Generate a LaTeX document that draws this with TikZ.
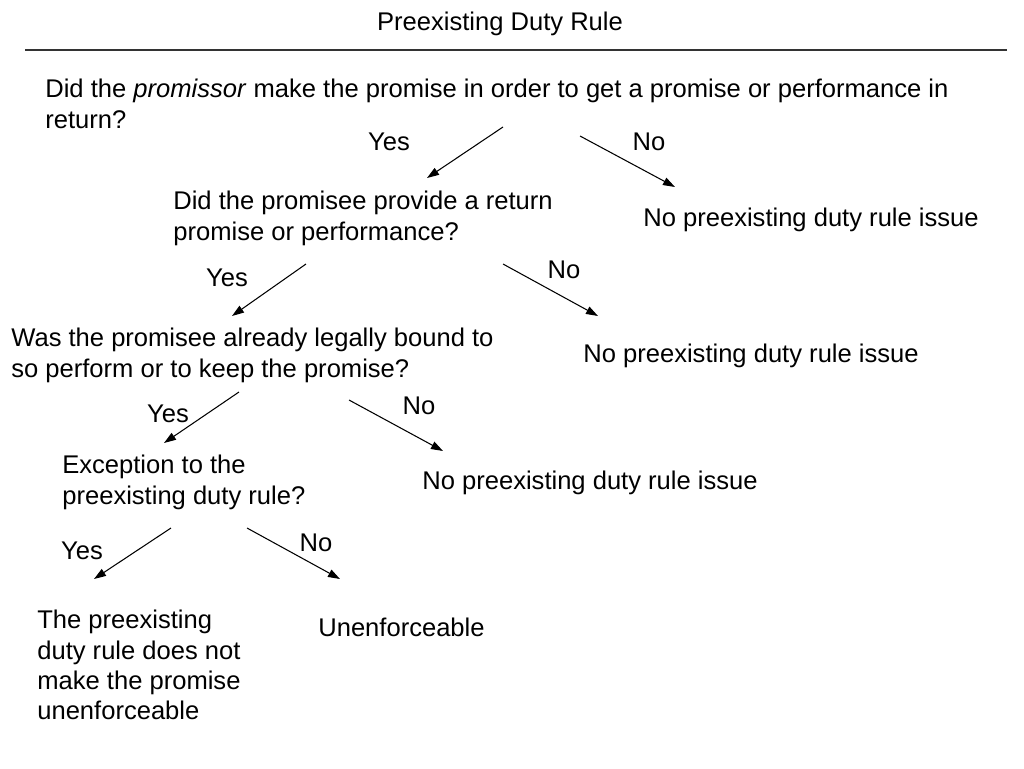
\documentclass[tikz,border=0pt]{standalone}
\usepackage{fontspec}
\setmainfont{Liberation Sans}
\usetikzlibrary{arrows.meta}
\tikzset{
	question/.style={anchor=north west,inner sep=0pt,align=left,font=\fontsize{14.55}{17.2}\selectfont},
	answer/.style={anchor=base,inner sep=0pt,font=\fontsize{14.55}{17.2}\selectfont},
	outcome/.style={anchor=base west,inner sep=0pt,font=\fontsize{14.55}{17.2}\selectfont},
	branch/.style={-{Triangle[length=2.4mm,width=1.6mm]},line width=0.6pt}
}
\begin{document}
\begin{tikzpicture}[x=0.02cm,y=-0.02cm]
	\useasboundingbox (0,0) rectangle (1024,768);
	\node[answer] (title) at (500,30) {Preexisting Duty Rule};
	\draw[line width=0.6pt,black!80] (25,50) -- (1007,50);

	\node[question] (q1) at (45,79) {Did the \textit{promissor} make the promise in order to get a promise or performance in\\return?};
	\node[answer] (yes1) at (389,150) {Yes};
	\node[answer] (no1) at (649,150) {No};
	\coordinate (y1s) at (503,127); \coordinate (y1e) at (427,178);
	\coordinate (n1s) at (580,136); \coordinate (n1e) at (675,187);
	\draw[branch] (y1s) -- (y1e);
	\draw[branch] (n1s) -- (n1e);

	\node[question] (q2) at (173,191) {Did the promisee provide a return\\promise or performance?};
	\node[outcome] (end1) at (643,226) {No preexisting duty rule issue};
	\node[answer] (yes2) at (227,286) {Yes};
	\node[answer] (no2) at (564,278) {No};
	\coordinate (y2s) at (306,264); \coordinate (y2e) at (232,316);
	\coordinate (n2s) at (503,264); \coordinate (n2e) at (598,316);
	\draw[branch] (y2s) -- (y2e);
	\draw[branch] (n2s) -- (n2e);

	\node[question] (q3) at (11,328) {Was the promisee already legally bound to\\so perform or to keep the promise?};
	\node[outcome] (end2) at (583,362) {No preexisting duty rule issue};
	\node[answer] (yes3) at (168,422) {Yes};
	\node[answer] (no3) at (419,414) {No};
	\coordinate (y3s) at (239,392); \coordinate (y3e) at (164,443);
	\coordinate (n3s) at (349,400); \coordinate (n3e) at (443,451);
	\draw[branch] (y3s) -- (y3e);
	\draw[branch] (n3s) -- (n3e);

	\node[question] (q4) at (62,455) {Exception to the\\preexisting duty rule?};
	\node[outcome] (end3) at (422,489) {No preexisting duty rule issue};
	\node[answer] (yes4) at (82,559) {Yes};
	\node[answer] (no4) at (316,551) {No};
	\coordinate (y4s) at (171,528); \coordinate (y4e) at (94,579);
	\coordinate (n4s) at (247,528); \coordinate (n4e) at (340,579);
	\draw[branch] (y4s) -- (y4e);
	\draw[branch] (n4s) -- (n4e);

	\node[question] (leaf) at (37,610) {The preexisting\\duty rule does not\\make the promise\\unenforceable};
	\node[outcome] (end4) at (318,636) {Unenforceable};
\end{tikzpicture}
\end{document}
